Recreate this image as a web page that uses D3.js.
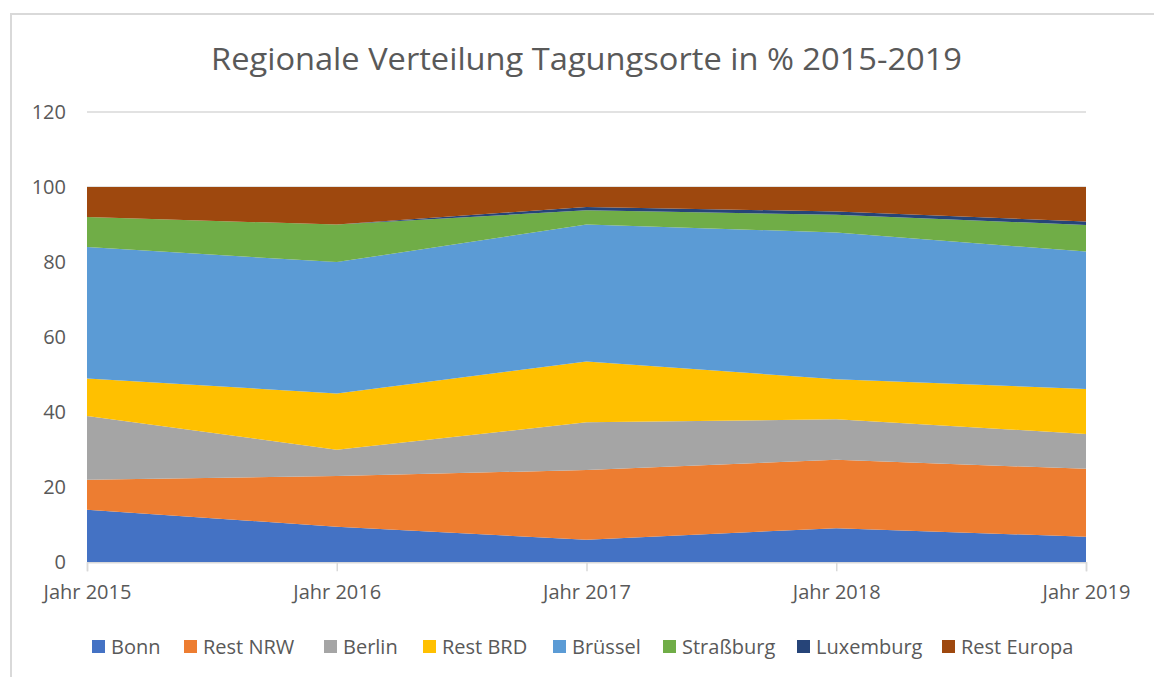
<!DOCTYPE html>
<html><head><meta charset="utf-8">
<script src="https://cdn.jsdelivr.net/npm/d3@7"></script>
<style>html,body{margin:0;padding:0;background:#fff;}svg{display:block;font-family:"Open Sans",sans-serif;}</style>
</head><body>
<svg id="c" width="1154" height="677"></svg>
<script>
const categories = ["Jahr 2015","Jahr 2016","Jahr 2017","Jahr 2018","Jahr 2019"];
const seriesNames = ["Bonn","Rest NRW","Berlin","Rest BRD","Brüssel","Straßburg","Luxemburg","Rest Europa"];
const bonn       = [14, 9.5, 6, 9.1, 6.8];
const restNRW    = [8, 13.5, 18.6, 18.2, 18.1];
const berlin     = [17, 7, 12.7, 10.8, 9.3];
const restBRD    = [10, 15, 16.2, 10.7, 12];
const bruessel   = [35, 35, 36.5, 39.1, 36.6];
const strassburg = [8, 10, 3.8, 4.7, 7.1];
const luxemburg  = [0, 0, 0.9, 0.9, 0.9];
const restEuropa = [8, 10, 5.3, 6.5, 9.2];
const yTicks = [0,20,40,60,80,100,120];
const colors = ["#4472C4","#ED7D31","#A5A5A5","#FFC000","#5B9BD5","#70AD47","#264478","#9E480E"];
const title = "Regionale Verteilung Tagungsorte in % 2015-2019";

const seriesVals = [bonn,restNRW,berlin,restBRD,bruessel,strassburg,luxemburg,restEuropa];
const table = categories.map((c,i)=>{const o={cat:c};seriesNames.forEach((n,j)=>o[n]=seriesVals[j][i]);return o;});

const svg = d3.select("#c");
// chart border
svg.append("rect").attr("x",11).attr("y",14).attr("width",1160).attr("height",700)
  .attr("fill","none").attr("stroke","#d9d9d9").attr("stroke-width",2);

const x = d3.scalePoint().domain(categories).range([87,1086]);
const y = d3.scaleLinear().domain([0,120]).range([562.3,112]);

// gridlines
svg.append("g").selectAll("line").data(yTicks.filter(t=>t>0)).join("line")
  .attr("x1",87).attr("x2",1086).attr("y1",d=>y(d)).attr("y2",d=>y(d))
  .attr("stroke","#d9d9d9").attr("stroke-width",1.5);

const stack = d3.stack().keys(seriesNames)(table);
const area = d3.area().x(d=>x(d.data.cat)).y0(d=>y(d[0])).y1(d=>y(d[1]));
svg.append("g").selectAll("path").data(stack).join("path")
  .attr("d",area).attr("fill",(d,i)=>colors[i]);

// x axis
const xa = svg.append("g").attr("transform",`translate(0,${y(0)})`)
  .call(d3.axisBottom(x).tickSize(9).tickPadding(14));
xa.select(".domain").attr("stroke","#d9d9d9").attr("stroke-width",1.5);
xa.selectAll(".tick line").attr("stroke","#d9d9d9").attr("stroke-width",1.5);
xa.selectAll("text").attr("fill","#595959").attr("font-size",20).attr("font-family","Open Sans, sans-serif");

// y axis labels
const ya = svg.append("g").attr("transform","translate(66,0)")
  .call(d3.axisLeft(y).tickValues(yTicks).tickSize(0).tickPadding(0));
ya.select(".domain").remove();
ya.selectAll("text").attr("fill","#595959").attr("font-size",20).attr("font-family","Open Sans, sans-serif");

// title
svg.append("text").attr("x",586.5).attr("y",70).attr("text-anchor","middle")
  .attr("font-size",31).attr("fill","#595959").attr("textLength",751).attr("lengthAdjust","spacingAndGlyphs")
  .text(title);

// legend
const legX = [92,184,324,423,553,663,797,942];
const leg = svg.append("g").selectAll("g").data(seriesNames).join("g")
  .attr("transform",(d,i)=>`translate(${legX[i]},640)`);
leg.append("rect").attr("width",13).attr("height",13).attr("fill",(d,i)=>colors[i]);
leg.append("text").attr("x",19).attr("y",14).attr("font-size",20).attr("fill","#595959").text(d=>d);
</script>
</body></html>
